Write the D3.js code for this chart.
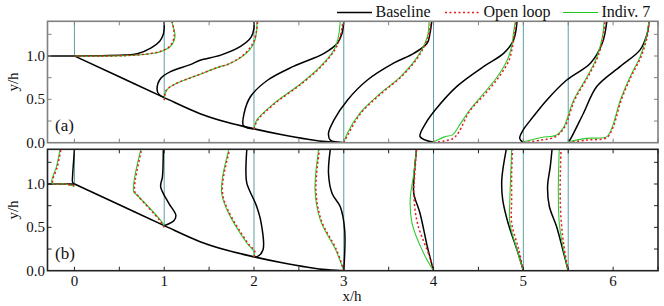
<!DOCTYPE html>
<html>
<head>
<meta charset="utf-8">
<script src="https://cdn.jsdelivr.net/npm/d3@7"></script>
<style>
  body { margin: 0; background: #fff; }
</style>
</head>
<body>
<svg id="chart" width="664" height="306"></svg>
<script>
// stations (x/h) and wall height at each station
const stations = [0, 1, 2, 3, 4, 5, 5.5];
const wallY = [1.0, 0.52, 0.16, 0, 0, 0, 0];

// ramp geometry [x/h, y/h]
const upstream = [[-0.3, 1], [0, 1]];
const hill = [[0, 1], [0.5, 0.76], [1, 0.52], [1.4, 0.335], [1.7, 0.235], [2, 0.16],
  [2.3, 0.095], [2.6, 0.04], [2.8, 0.012], [3, 0], [6.5, 0]];

// profiles: [offset from station, y/h], one list per station
const baselineA = [
  [[0, 1.0], [0.3, 1.004], [0.55, 1.01], [0.7, 1.025], [0.85, 1.09], [0.95, 1.17], [0.99, 1.25], [1.0, 1.33], [1.0, 1.4]],
  [[0, 0.52], [-0.06, 0.56], [-0.08, 0.62], [-0.04, 0.74], [0.07, 0.82], [0.29, 0.9], [0.4, 0.95], [0.63, 1.01], [0.85, 1.11], [0.97, 1.22], [1.0, 1.32], [1.0, 1.4]],
  [[0, 0.16], [-0.07, 0.17], [-0.12, 0.2], [-0.11, 0.34], [-0.04, 0.53], [0.15, 0.72], [0.44, 0.88], [0.78, 1.03], [0.93, 1.15], [0.98, 1.26], [1.0, 1.4]],
  [[0, 0], [-0.15, 0.03], [-0.17, 0.11], [-0.11, 0.26], [0.04, 0.49], [0.26, 0.72], [0.56, 0.92], [0.78, 1.03], [0.93, 1.15], [0.96, 1.26], [0.98, 1.4]],
  [[0, 0.005], [-0.15, 0.07], [-0.09, 0.22], [0.02, 0.38], [0.26, 0.65], [0.56, 0.88], [0.78, 1.03], [0.89, 1.18], [0.93, 1.4]],
  [[0, 0], [-0.04, 0.05], [0, 0.15], [0.08, 0.26], [0.26, 0.49], [0.48, 0.72], [0.75, 0.92], [0.88, 1.15], [0.93, 1.4]],
  [[0, 0], [0.04, 0.07], [0.17, 0.34], [0.32, 0.65], [0.58, 0.88], [0.8, 1.07], [0.88, 1.26], [0.9, 1.4]]
];
const openLoopA = [
  [[0, 1.0], [0.3, 1.0], [0.6, 1.006], [0.8, 1.022], [0.96, 1.055], [1.06, 1.11], [1.11, 1.22], [1.1, 1.34], [1.09, 1.4]],
  [[0, 0.49], [0.02, 0.6], [0.11, 0.67], [0.4, 0.79], [0.63, 0.88], [0.7, 0.9], [0.88, 1.01], [0.99, 1.15], [1.03, 1.3], [1.04, 1.4]],
  [[0, 0.16], [0.04, 0.26], [0.23, 0.45], [0.53, 0.68], [0.75, 0.88], [0.9, 1.07], [0.96, 1.22], [0.99, 1.4]],
  [[0, 0], [0.05, 0.1], [0.19, 0.34], [0.42, 0.57], [0.64, 0.76], [0.83, 0.99], [0.94, 1.22], [0.97, 1.4]],
  [[0, 0], [0.12, 0.02], [0.22, 0.05], [0.28, 0.12], [0.4, 0.36], [0.58, 0.57], [0.73, 0.76], [0.84, 0.95], [0.88, 1.11], [0.9, 1.26], [0.92, 1.4]],
  [[0, 0], [0.2, 0.03], [0.36, 0.07], [0.46, 0.18], [0.57, 0.49], [0.72, 0.76], [0.83, 0.99], [0.89, 1.22], [0.91, 1.4]],
  [[0, 0], [0.2, 0.03], [0.43, 0.06], [0.5, 0.18], [0.59, 0.49], [0.7, 0.76], [0.81, 0.99], [0.88, 1.22], [0.9, 1.4]]
];
const indiv7A = [
  [[0, 1.0], [0.3, 1.0], [0.6, 1.005], [0.8, 1.02], [0.96, 1.05], [1.07, 1.11], [1.12, 1.22], [1.1, 1.34], [1.08, 1.4]],
  [[0, 0.52], [0.03, 0.61], [0.11, 0.67], [0.4, 0.79], [0.63, 0.88], [0.7, 0.9], [0.89, 1.01], [1.0, 1.15], [1.03, 1.3], [1.03, 1.4]],
  [[0, 0.16], [0.03, 0.26], [0.22, 0.45], [0.52, 0.68], [0.74, 0.88], [0.89, 1.07], [0.94, 1.22], [0.96, 1.4]],
  [[0, 0], [0.04, 0.11], [0.18, 0.34], [0.41, 0.57], [0.63, 0.76], [0.82, 0.99], [0.93, 1.22], [0.95, 1.4]],
  [[0, 0.01], [0.13, 0.07], [0.21, 0.09], [0.3, 0.22], [0.39, 0.36], [0.56, 0.57], [0.71, 0.76], [0.82, 0.95], [0.87, 1.11], [0.89, 1.26], [0.91, 1.4]],
  [[0, 0.01], [0.2, 0.06], [0.37, 0.09], [0.45, 0.18], [0.56, 0.49], [0.71, 0.76], [0.82, 0.99], [0.88, 1.22], [0.9, 1.4]],
  [[0, 0.01], [0.2, 0.05], [0.43, 0.07], [0.49, 0.18], [0.58, 0.49], [0.69, 0.76], [0.8, 0.99], [0.87, 1.22], [0.9, 1.4]]
];

const baselineB = [
  [[0, 1.0], [-0.02, 1.02], [-0.02, 1.1], [-0.01, 1.25], [0, 1.4]],
  [[0, 0.52], [0.11, 0.58], [0.13, 0.64], [0.05, 0.78], [-0.04, 0.97], [-0.02, 1.08], [-0.01, 1.4]],
  [[0, 0.16], [0.03, 0.16], [0.1, 0.24], [0.08, 0.55], [0.03, 0.74], [-0.08, 1.01], [-0.09, 1.16], [-0.08, 1.4]],
  [[0, 0], [0.01, 0.47], [-0.04, 0.74], [-0.13, 0.89], [-0.17, 1.12], [-0.15, 1.4]],
  [[0, 0], [-0.07, 0.28], [-0.15, 0.66], [-0.22, 0.89], [-0.22, 1.05], [-0.19, 1.4]],
  [[0, 0], [-0.07, 0.24], [-0.17, 0.55], [-0.23, 0.82], [-0.24, 1.05], [-0.19, 1.4]],
  [[0, 0], [-0.06, 0.24], [-0.13, 0.51], [-0.21, 0.74], [-0.23, 0.97], [-0.2, 1.2], [-0.18, 1.4]]
];
const openLoopB = [
  [[0, 0.98], [-0.1, 1.0], [-0.24, 1.01], [-0.19, 1.2], [-0.15, 1.4]],
  [[0, 0.5], [-0.05, 0.58], [-0.29, 0.86], [-0.33, 0.92], [-0.25, 1.4]],
  [[0, 0.16], [0.01, 0.22], [-0.07, 0.32], [-0.29, 0.7], [-0.35, 0.89], [-0.34, 1.08], [-0.27, 1.4]],
  [[0, 0], [-0.08, 0.24], [-0.25, 0.58], [-0.31, 0.93], [-0.27, 1.4]],
  [[0, 0], [-0.04, 0.15], [-0.18, 0.55], [-0.22, 0.89], [-0.21, 1.1], [-0.19, 1.4]],
  [[0, 0], [-0.05, 0.24], [-0.13, 0.55], [-0.13, 0.82], [-0.13, 1.12], [-0.12, 1.4]],
  [[0, 0], [-0.05, 0.3], [-0.08, 0.6], [-0.09, 0.93], [-0.08, 1.4]]
];
const indiv7B = [
  [[0, 0.97], [-0.1, 1.0], [-0.25, 1.01], [-0.2, 1.2], [-0.16, 1.4]],
  [[0, 0.52], [-0.04, 0.58], [-0.3, 0.87], [-0.34, 0.91], [-0.26, 1.4]],
  [[0, 0.16], [0, 0.22], [-0.08, 0.32], [-0.3, 0.7], [-0.36, 0.89], [-0.35, 1.08], [-0.28, 1.4]],
  [[0, 0], [-0.09, 0.24], [-0.26, 0.58], [-0.32, 0.93], [-0.28, 1.4]],
  [[0, 0], [-0.11, 0.2], [-0.24, 0.55], [-0.26, 0.82], [-0.22, 1.12], [-0.19, 1.4]],
  [[0, 0], [-0.07, 0.24], [-0.15, 0.55], [-0.15, 0.82], [-0.14, 1.12], [-0.13, 1.4]],
  [[0, 0], [-0.06, 0.28], [-0.1, 0.55], [-0.11, 0.93], [-0.1, 1.4]]
];

const xTicks = [0, 1, 2, 3, 4, 5, 6];
const yTicks = [0, 0.5, 1.0];

const serif = "'Liberation Serif', 'Times New Roman', Times, 'DejaVu Serif', serif";
const svg = d3.select("#chart").attr("font-family", serif);
const x = d3.scaleLinear().domain([-0.3, 6.5]).range([47.5, 658]);

const panels = [
  { id: "a", top: 21.3, bottom: 142.7, frame: "#808080", base: baselineA, open: openLoopA, ind: indiv7A, label: "(a)" },
  { id: "b", top: 149.3, bottom: 270.7, frame: "#222", base: baselineB, open: openLoopB, ind: indiv7B, label: "(b)" }
];

panels.forEach(p => {
  const y = d3.scaleLinear().domain([0, 1.4]).range([p.bottom, p.top]);
  const g = svg.append("g");

  svg.append("clipPath").attr("id", "clip-" + p.id)
    .append("rect").attr("x", x.range()[0]).attr("y", p.top)
    .attr("width", x.range()[1] - x.range()[0]).attr("height", p.bottom - p.top);

  const plot = g.append("g").attr("clip-path", `url(#clip-${p.id})`);

  // station reference lines
  plot.selectAll(".ref").data(stations).join("line")
    .attr("x1", d => x(d)).attr("x2", d => x(d))
    .attr("y1", (d, i) => y(wallY[i])).attr("y2", y(1.4))
    .attr("stroke", "#5f9ea0").attr("stroke-width", 1);

  // ramp
  plot.append("path").datum(upstream)
    .attr("d", d3.line().x(d => x(d[0])).y(d => y(d[1])))
    .attr("fill", "none").attr("stroke", "#000").attr("stroke-width", 1.6);
  plot.append("path").datum(hill)
    .attr("d", d3.line().x(d => x(d[0])).y(d => y(d[1])).curve(d3.curveMonotoneX))
    .attr("fill", "none").attr("stroke", "#000").attr("stroke-width", 1.6);

  const drawSet = (set, color, width, dash) => {
    set.forEach((prof, i) => {
      const pts = prof.map(d => [stations[i] + d[0], d[1]]);
      plot.append("path").datum(pts)
        .attr("d", d3.line().x(d => x(d[0])).y(d => y(d[1])).curve(d3.curveCatmullRom.alpha(0.5)))
        .attr("fill", "none").attr("stroke", color).attr("stroke-width", width)
        .attr("stroke-dasharray", dash);
    });
  };
  drawSet(p.base, "#000", 1.5, null);
  drawSet(p.ind, "#2ecc2e", 1.1, null);
  drawSet(p.open, "#e41a1a", 1.5, "2,2.5");

  // frame
  g.append("rect").attr("x", x.range()[0]).attr("y", p.top)
    .attr("width", x.range()[1] - x.range()[0]).attr("height", p.bottom - p.top)
    .attr("fill", "none").attr("stroke", p.frame).attr("stroke-width", 1.6);

  // inward ticks on all four sides
  const tickLen = 4;
  const xt = d3.range(0, 6.51, 0.5);
  const yt = d3.range(0.25, 1.4, 0.25);
  xt.forEach(v => {
    g.append("line").attr("x1", x(v)).attr("x2", x(v)).attr("y1", p.bottom).attr("y2", p.bottom - tickLen)
      .attr("stroke", p.frame).attr("stroke-width", 1);
    g.append("line").attr("x1", x(v)).attr("x2", x(v)).attr("y1", p.top).attr("y2", p.top + tickLen)
      .attr("stroke", p.frame).attr("stroke-width", 1);
  });
  yt.forEach(v => {
    g.append("line").attr("x1", x.range()[0]).attr("x2", x.range()[0] + tickLen).attr("y1", y(v)).attr("y2", y(v))
      .attr("stroke", p.frame).attr("stroke-width", 1);
    g.append("line").attr("x1", x.range()[1]).attr("x2", x.range()[1] - tickLen).attr("y1", y(v)).attr("y2", y(v))
      .attr("stroke", p.frame).attr("stroke-width", 1);
  });

  // y tick labels
  g.selectAll(".yl").data(yTicks).join("text")
    .attr("x", 45).attr("y", d => y(d) + 5)
    .attr("text-anchor", "end").attr("font-size", 15).attr("fill", "#111")
    .text(d => d.toFixed(1));

  g.append("text")
    .attr("transform", `translate(18, ${(p.top + p.bottom) / 2}) rotate(-90)`)
    .attr("text-anchor", "middle").attr("font-size", 15).attr("fill", "#111").text("y/h");

  g.append("text").attr("x", 55).attr("y", p.bottom - 12)
    .attr("font-size", 17).attr("fill", "#111").text(p.label);

  if (p.id === "b") {
    g.selectAll(".xl").data(xTicks).join("text")
      .attr("x", d => x(d)).attr("y", p.bottom + 15.5)
      .attr("text-anchor", "middle").attr("font-size", 15).attr("fill", "#111")
      .text(d => d);
    g.append("text").attr("x", 352).attr("y", 301)
      .attr("text-anchor", "middle").attr("font-size", 15).attr("fill", "#111").text("x/h");
  }
});

// legend
const legend = [
  { name: "Baseline", color: "#000", width: 1.5, dash: null, x0: 337 },
  { name: "Open loop", color: "#e41a1a", width: 1.5, dash: "2,2.5", x0: 445 },
  { name: "Indiv. 7", color: "#1fc41f", width: 1.2, dash: null, x0: 563 }
];
legend.forEach(l => {
  svg.append("line").attr("x1", l.x0).attr("x2", l.x0 + 35).attr("y1", 12.5).attr("y2", 12.5)
    .attr("stroke", l.color).attr("stroke-width", l.width).attr("stroke-dasharray", l.dash);
  svg.append("text").attr("x", l.x0 + 38.5).attr("y", 17).attr("font-size", 16).attr("fill", "#111").text(l.name);
});
</script>
</body>
</html>
